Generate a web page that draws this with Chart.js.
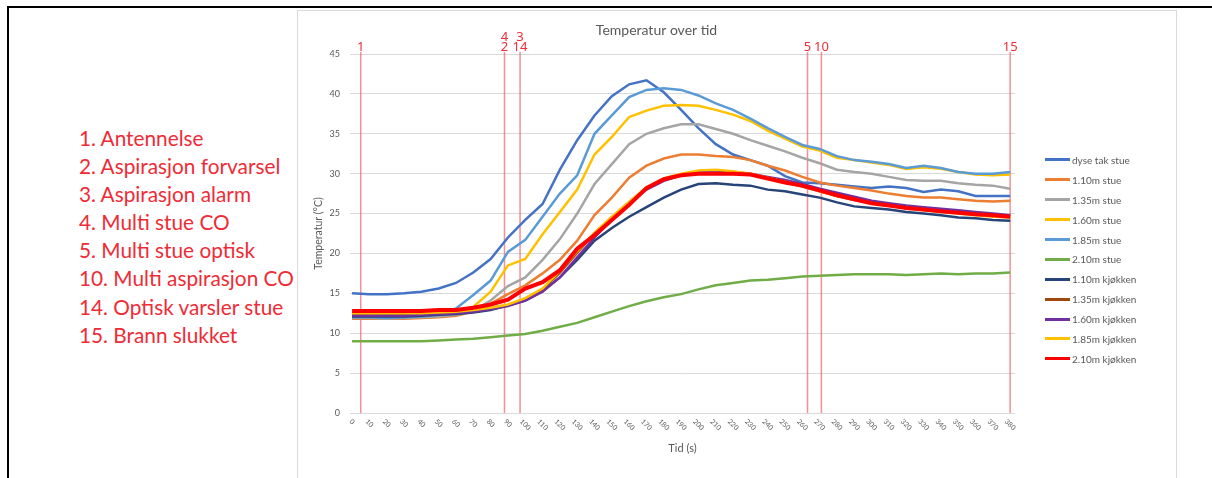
<!DOCTYPE html>
<html>
<head>
<meta charset="utf-8">
<script src="https://cdn.jsdelivr.net/npm/chart.js@4.4.1/dist/chart.umd.min.js"></script>
<style>
  html, body { margin: 0; padding: 0; background: #fff; }
  body { width: 1212px; height: 478px; position: relative; overflow: hidden; }
  #frame { position: absolute; left: 7px; top: 6px; right: 0; bottom: 0; border-left: 2px solid #000; border-top: 2px solid #000; }
  #notes { position: absolute; left: 79px; top: 124px; color: #EF2B36; font-family: Lato, sans-serif; font-size: 22px; line-height: 28.1px; white-space: nowrap; }
  #notes div { height: 28.1px; }
  #panel { position: absolute; left: 297px; top: 10px; width: 878px; height: 480px; border: 1px solid #D9D9D9; background: #fff; }
  #wrap { position: absolute; left: 298px; top: 11px; width: 877px; height: 467px; }
  #legend { position: absolute; left: 1045px; top: 150px; font-family: Lato, sans-serif; font-size: 10px; color: #595959; }
  .item { height: 19.9px; display: flex; align-items: center; white-space: nowrap; }
  .sw { width: 25px; height: 3px; margin-right: 2px; }
</style>
</head>
<body>
<div id="frame"></div>
<div id="panel"></div>
<div id="notes"></div>
<div id="wrap"><canvas id="lineChart"></canvas></div>
<div id="legend"></div>
<script>
// time axis (s)
const times = [0, 10, 20, 30, 40, 50, 60, 70, 80, 90, 100, 110, 120, 130, 140, 150, 160, 170, 180, 190,
  200, 210, 220, 230, 240, 250, 260, 270, 280, 290, 300, 310, 320, 330, 340, 350, 360, 370, 380];
const yTicks = [0, 5, 10, 15, 20, 25, 30, 35, 40, 45];

// temperatures (°C)
const dyseTakStue = [15.0, 14.9, 14.9, 15.0, 15.2, 15.6, 16.3, 17.6, 19.3, 22.0, 24.2, 26.2, 30.5, 34.2, 37.3, 39.7, 41.2, 41.7, 40.2, 38.0,
  35.7, 33.7, 32.4, 31.7, 31.0, 29.7, 28.9, 28.8, 28.6, 28.4, 28.2, 28.4, 28.2, 27.7, 28.0, 27.8, 27.2, 27.2, 27.2];
const stue110 = [11.8, 11.8, 11.8, 11.8, 11.9, 12.0, 12.2, 12.7, 13.7, 14.9, 16.0, 17.5, 19.2, 21.6, 24.8, 27.0, 29.5, 31.0, 31.9, 32.4,
  32.4, 32.2, 32.1, 31.7, 31.0, 30.4, 29.6, 28.9, 28.5, 28.2, 27.9, 27.5, 27.2, 27.0, 27.0, 26.8, 26.6, 26.5, 26.6];
const stue135 = [11.9, 11.9, 11.8, 11.9, 12.0, 12.1, 12.3, 12.8, 14.1, 15.9, 17.0, 19.2, 21.8, 25.0, 28.7, 31.2, 33.7, 35.0, 35.7, 36.2,
  36.2, 35.6, 35.0, 34.2, 33.5, 32.8, 32.0, 31.3, 30.5, 30.2, 30.0, 29.6, 29.2, 29.1, 29.1, 28.8, 28.6, 28.5, 28.1];
const stue160 = [12.3, 12.3, 12.3, 12.2, 12.3, 12.5, 12.8, 13.3, 15.2, 18.5, 19.3, 22.4, 25.2, 28.0, 32.4, 34.6, 37.1, 37.9, 38.5, 38.6,
  38.5, 38.0, 37.4, 36.6, 35.4, 34.4, 33.4, 32.9, 32.0, 31.7, 31.4, 31.1, 30.6, 30.8, 30.6, 30.2, 29.9, 29.8, 29.9];
const stue185 = [12.0, 12.0, 11.9, 12.0, 12.1, 12.3, 13.1, 14.8, 16.6, 20.2, 21.7, 24.6, 27.5, 29.8, 35.0, 37.3, 39.6, 40.5, 40.7, 40.5,
  39.8, 38.8, 38.0, 36.9, 35.7, 34.6, 33.6, 33.1, 32.2, 31.7, 31.5, 31.2, 30.7, 31.0, 30.7, 30.2, 30.0, 30.0, 30.2];
const stue210 = [9.0, 9.0, 9.0, 9.0, 9.0, 9.1, 9.2, 9.3, 9.5, 9.7, 9.9, 10.3, 10.8, 11.3, 12.0, 12.7, 13.4, 14.0, 14.5, 14.9,
  15.5, 16.0, 16.3, 16.6, 16.7, 16.9, 17.1, 17.2, 17.3, 17.4, 17.4, 17.4, 17.3, 17.4, 17.5, 17.4, 17.5, 17.5, 17.6];
const kjokken110 = [12.1, 12.1, 12.1, 12.1, 12.2, 12.3, 12.4, 12.6, 12.9, 13.5, 14.1, 15.3, 17.0, 19.2, 21.6, 23.2, 24.6, 25.8, 27.0, 28.0,
  28.7, 28.8, 28.6, 28.5, 28.0, 27.8, 27.4, 27.0, 26.4, 25.9, 25.7, 25.5, 25.2, 25.0, 24.8, 24.5, 24.4, 24.2, 24.1];
const kjokken135 = [12.3, 12.3, 12.3, 12.3, 12.4, 12.5, 12.6, 12.8, 13.1, 13.5, 14.3, 15.5, 17.6, 20.1, 22.5, 24.5, 26.4, 28.2, 29.3, 29.9,
  30.3, 30.4, 30.2, 29.9, 29.4, 28.9, 28.4, 27.8, 27.2, 26.7, 26.3, 26.0, 25.7, 25.5, 25.3, 25.1, 24.9, 24.7, 24.6];
const kjokken160 = [12.2, 12.2, 12.2, 12.2, 12.3, 12.4, 12.5, 12.7, 13.0, 13.4, 14.1, 15.2, 17.0, 19.5, 22.0, 24.2, 26.3, 28.0, 29.1, 29.8,
  30.2, 30.4, 30.2, 30.0, 29.6, 29.2, 28.7, 28.1, 27.6, 27.1, 26.6, 26.3, 26.0, 25.8, 25.6, 25.4, 25.2, 25.0, 24.8];
const kjokken185 = [12.5, 12.5, 12.5, 12.5, 12.5, 12.6, 12.7, 12.9, 13.2, 13.6, 14.4, 15.6, 17.8, 20.3, 22.6, 24.6, 26.5, 28.3, 29.4, 30.0,
  30.4, 30.5, 30.3, 30.0, 29.5, 29.0, 28.5, 27.8, 27.2, 26.8, 26.3, 26.0, 25.7, 25.4, 25.2, 25.0, 24.8, 24.6, 24.5];
const kjokken210 = [12.8, 12.8, 12.8, 12.8, 12.8, 12.9, 12.9, 13.2, 13.6, 14.2, 15.6, 16.4, 17.9, 20.6, 22.3, 24.2, 26.1, 28.2, 29.3, 29.8,
  30.0, 30.0, 30.0, 29.9, 29.4, 28.9, 28.5, 27.9, 27.3, 26.8, 26.3, 26.0, 25.7, 25.5, 25.3, 25.1, 24.9, 24.8, 24.6];

const seriesNames = ['dyse tak stue', '1.10m stue', '1.35m stue', '1.60m stue', '1.85m stue', '2.10m stue',
  '1.10m kjøkken', '1.35m kjøkken', '1.60m kjøkken', '1.85m kjøkken', '2.10m kjøkken'];
const seriesValues = [dyseTakStue, stue110, stue135, stue160, stue185, stue210,
  kjokken110, kjokken135, kjokken160, kjokken185, kjokken210];
const seriesColors = ['#4472C4', '#ED7D31', '#A5A5A5', '#FFC000', '#5B9BD5', '#70AD47',
  '#264478', '#9E480E', '#7030A0', '#FFC000', '#FF0000'];

// alarm events (s) and their numbers, bottom label first
const eventTimes = [5, 88, 97, 263, 271, 380];
const eventLabels = [['1'], ['2', '4'], ['14', '3'], ['5'], ['10'], ['15']];

const notes = ['1. Antennelse', '2. Aspirasjon forvarsel', '3. Aspirasjon alarm', '4. Multi stue CO',
  '5. Multi stue optisk', '10. Multi aspirasjon CO', '14. Optisk varsler stue', '15. Brann slukket'];

const notesBox = document.getElementById('notes');
notesBox.innerHTML = notes.map(n => '<div>' + n + '</div>').join('');
// shrink the note font until the widest line fits the gap left of the chart
const widest = Math.max(...[...notesBox.children].map(d => { d.style.display = 'inline-block'; const w = d.getBoundingClientRect().width; d.style.display = 'block'; return w; }));
if (widest > 215) notesBox.style.fontSize = (22 * 215 / widest).toFixed(2) + 'px';

document.getElementById('legend').innerHTML = seriesNames.map((n, i) =>
  '<div class="item"><span class="sw" style="background:' + seriesColors[i] + '"></span>' + n + '</div>').join('');

const red = '#EF2B36';

const eventLines = {
  id: 'eventLines',
  beforeDatasetsDraw(chart) {
    const {ctx, chartArea, scales: {x}} = chart;
    ctx.save();
    ctx.strokeStyle = 'rgba(240, 70, 80, 0.6)';
    ctx.lineWidth = 1.5;
    eventTimes.forEach(t => {
      const px = x.getPixelForValue(t);
      ctx.beginPath();
      ctx.moveTo(px, chartArea.top - 2);
      ctx.lineTo(px, chartArea.bottom);
      ctx.stroke();
    });
    ctx.restore();
  },
  afterDraw(chart) {
    const {ctx, chartArea, scales: {x}} = chart;
    ctx.save();
    ctx.fillStyle = red;
    ctx.font = '13px "Noto Sans"';
    ctx.textAlign = 'center';
    ctx.textBaseline = 'middle';
    eventTimes.forEach((t, i) => {
      const px = x.getPixelForValue(t);
      eventLabels[i].forEach((lab, k) => {
        ctx.fillText(lab, px, chartArea.top - 7 - k * 10);
      });
    });
    // rotated x tick labels
    ctx.fillStyle = '#595959';
    ctx.font = '7px Lato';
    x.ticks.forEach(tk => {
      const label = String(tk.value);
      const w = ctx.measureText(label).width;
      ctx.save();
      ctx.translate(x.getPixelForValue(tk.value), chartArea.bottom + 7.4 + w * 0.354);
      ctx.rotate(Math.PI / 4);
      ctx.fillText(label, 0, 0);
      ctx.restore();
    });
    ctx.restore();
  }
};

const ctx = document.getElementById('lineChart').getContext('2d');
const myChart = new Chart(ctx, {
  type: 'line',
  data: {
    datasets: seriesValues.map((vals, i) => ({
      label: seriesNames[i],
      data: vals.map((v, j) => ({x: times[j], y: v})),
      borderColor: seriesColors[i],
      backgroundColor: seriesColors[i],
      borderWidth: i === 10 ? 4 : 2.5,
      pointRadius: 0,
      tension: 0,
      order: seriesValues.length - i
    }))
  },
  options: {
    responsive: true,
    maintainAspectRatio: false,
    animation: false,
    layout: {padding: {left: 0, top: 0, right: 160, bottom: 0}},
    plugins: {
      legend: {display: false},
      tooltip: {enabled: false},
      title: {
        display: true,
        text: 'Temperatur over tid',
        color: '#595959',
        font: {family: 'Lato', size: 14, weight: 'normal'},
        padding: {top: 10.6, bottom: 15.6}
      }
    },
    scales: {
      x: {
        type: 'linear',
        min: -1.2,
        max: 382.8,
        afterBuildTicks: axis => { axis.ticks = times.map(v => ({value: v})); },
        afterFit: scale => { scale.height = 65; },
        grid: {display: false},
        border: {display: false},
        ticks: {display: false},
        title: {display: true, text: 'Tid (s)', color: '#595959', font: {family: 'Lato', size: 11}, padding: {top: 0, bottom: 23}}
      },
      y: {
        min: 0,
        max: 45,
        afterBuildTicks: axis => { axis.ticks = yTicks.map(v => ({value: v})); },
        afterFit: scale => { scale.width = 52; },
        grid: {color: '#D9D9D9', drawTicks: false},
        border: {display: false},
        ticks: {color: '#595959', font: {family: 'Lato', size: 9}, padding: 10},
        title: {display: true, text: 'Temperatur (°C)', color: '#595959', font: {family: 'Lato', size: 10.5}, padding: {top: 14, bottom: 0}}
      }
    }
  },
  plugins: [eventLines]
});
</script>
</body>
</html>
